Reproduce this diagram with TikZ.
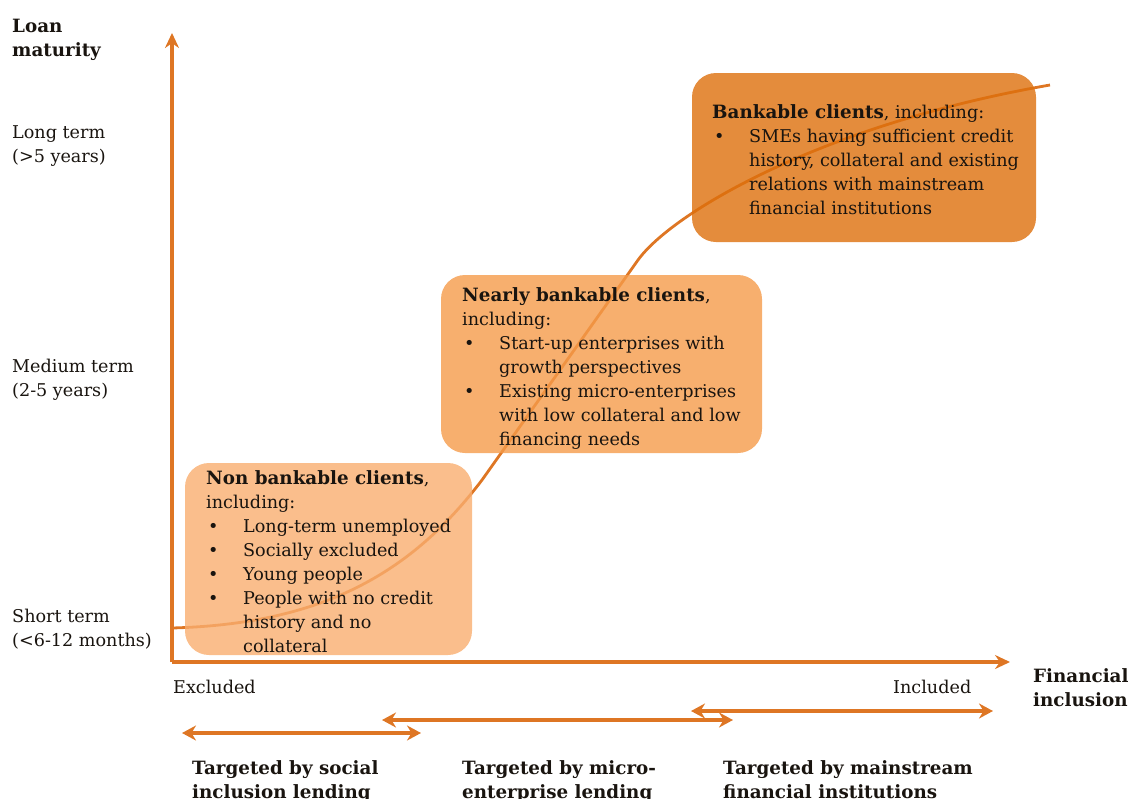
\documentclass[tikz,border=0pt]{standalone}
\usepackage{fontspec}
\setmainfont{DejaVu Serif}
\usetikzlibrary{arrows.meta}
\definecolor{axisor}{RGB}{222,118,36}
\definecolor{boxA}{RGB}{249,174,111}
\definecolor{boxB}{RGB}{245,155,74}
\definecolor{boxC}{RGB}{221,111,11}
\definecolor{txt}{RGB}{25,20,15}
\newcommand{\bul}{\makebox[37pt][l]{\hspace{2pt}\textbullet}}
\newcommand{\ind}{\hspace*{37pt}}
\newcommand{\hb}[1]{{\fontsize{18.3}{24}\selectfont\bfseries #1}}
\tikzset{
  axisline/.style={draw=axisor, line width=3.2pt, -{Stealth[length=15pt,width=14pt]}},
  rangearrow/.style={draw=axisor, line width=3.2pt, {Stealth[length=14pt,width=15pt]}-{Stealth[length=14pt,width=15pt]}},
  curveline/.style={draw=axisor, line width=2.8pt},
  clientbox/.style={rounded corners=24pt, fill opacity=0.8},
  lbl/.style={anchor=north west, inner sep=0pt, align=left, text=txt, font=\fontsize{17.6}{24}\selectfont},
  blbl/.style={lbl, font=\fontsize{18.3}{24}\selectfont\bfseries},
}
\begin{document}
\begin{tikzpicture}[x=1pt,y=-1pt]
\useasboundingbox (0,0) rectangle (1132,798);
% axes
\coordinate (o) at (172,662);
\coordinate (ytop) at (172,33);
\coordinate (xend) at (1010,662);
% curve
\coordinate (c0) at (172,628);
\coordinate (c1) at (482,480);
\coordinate (c2) at (638,260);
\coordinate (c3) at (1050,85);
\draw[curveline] (c0) .. controls (320,624) and (410,575) .. (c1) -- (c2) .. controls (672,213) and (820,125) .. (c3);
% boxes
\path[clientbox, fill=boxA] (185,463) rectangle (472,655);
\path[clientbox, fill=boxB] (441,275) rectangle (762,453);
\path[clientbox, fill=boxC] (692,73) rectangle (1036,242);
\draw[axisline] (o) -- (ytop);
\draw[axisline] (o) -- (xend);
% box texts
\node[lbl] (t1) at (206,470) {\hb{Non bankable clients},\\including:\\\bul Long-term unemployed\\\bul Socially excluded\\\bul Young people\\\bul People with no credit\\\ind history and no\\\ind collateral};
\node[lbl] (t2) at (462,287) {\hb{Nearly bankable clients},\\including:\\\bul Start-up enterprises with\\\ind growth perspectives\\\bul Existing micro-enterprises\\\ind with low collateral and low\\\ind financing needs};
\node[lbl] (t3) at (712,104) {\hb{Bankable clients}, including:\\\bul SMEs having sufficient credit\\\ind history, collateral and existing\\\ind relations with mainstream\\\ind financial institutions};
% axis labels
\node[blbl] (ly) at (12,19) {Loan\\maturity};
\node[lbl] (l1) at (12,125) {Long term\\(>5 years)};
\node[lbl] (l2) at (12,359) {Medium term\\(2-5 years)};
\node[lbl] (l3) at (12,609) {Short term\\(<6-12 months)};
\node[lbl] (ex) at (173,680) {Excluded};
\node[lbl] (in) at (893,680) {Included};
\node[blbl] (lx) at (1033,668) {Financial\\inclusion};
% range arrows
\coordinate (a1l) at (182,733); \coordinate (a1r) at (421,733);
\coordinate (a2l) at (382,720); \coordinate (a2r) at (733,720);
\coordinate (a3l) at (691,711); \coordinate (a3r) at (993,711);
\draw[rangearrow] (a1l) -- (a1r);
\draw[rangearrow] (a2l) -- (a2r);
\draw[rangearrow] (a3l) -- (a3r);
\node[blbl] (g1) at (192,760) {Targeted by social\\inclusion lending};
\node[blbl] (g2) at (462,760) {Targeted by micro-\\enterprise lending};
\node[blbl] (g3) at (723,760) {Targeted by mainstream\\financial institutions};
\end{tikzpicture}
\end{document}
